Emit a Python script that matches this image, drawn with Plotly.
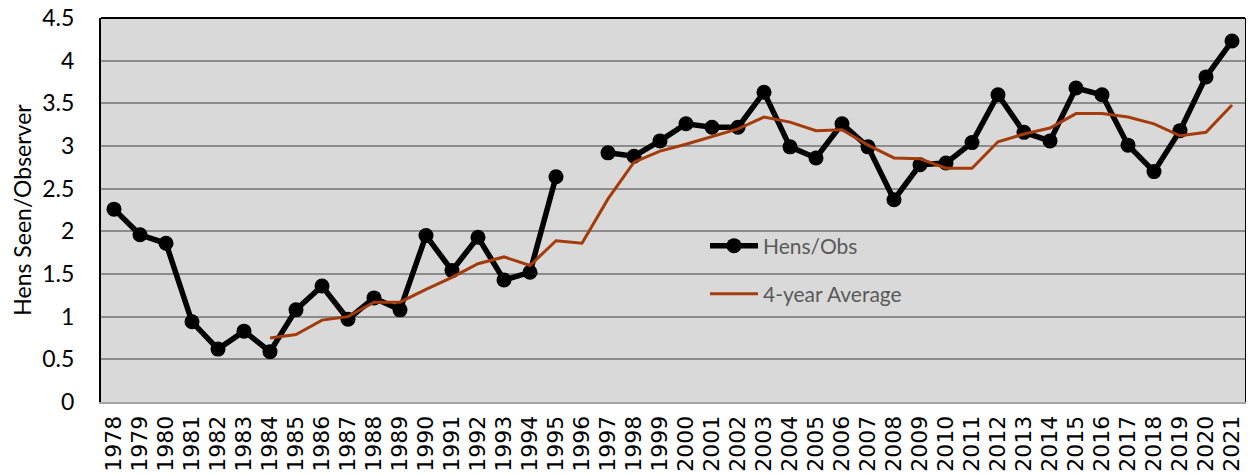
import plotly.graph_objects as go

years = [str(y) for y in range(1978, 2022)]

hens_obs = [2.26, 1.96, 1.86, 0.94, 0.62, 0.83, 0.59, 1.08, 1.36, 0.97,
            1.22, 1.08, 1.95, 1.54, 1.93, 1.43, 1.52, 2.64, None, 2.92,
            2.88, 3.06, 3.26, 3.22, 3.22, 3.63, 2.99, 2.86, 3.26, 2.99,
            2.37, 2.78, 2.80, 3.04, 3.60, 3.16, 3.06, 3.68, 3.60, 3.01,
            2.70, 3.18, 3.81, 4.23]

avg4 = [None, None, None, None, None, None, 0.75, 0.79, 0.96, 1.00,
        1.17, 1.17, 1.32, 1.46, 1.62, 1.70, 1.60, 1.89, 1.86, 2.38,
        2.81, 2.94, 3.02, 3.11, 3.20, 3.34, 3.28, 3.18, 3.19, 3.01,
        2.86, 2.85, 2.74, 2.74, 3.05, 3.14, 3.21, 3.38, 3.38, 3.34,
        3.26, 3.12, 3.16, 3.48]

y_ticks = [0, 0.5, 1, 1.5, 2, 2.5, 3, 3.5, 4, 4.5]
y_tick_text = ["0", "0.5", "1", "1.5", "2", "2.5", "3", "3.5", "4", "4.5"]

FONT = "Lato"
XFONT = "DejaVu Sans"

# The page body has an 8px margin, so the figure is placed at (8, 8).
OFF = 8
W, H = 1254 - OFF, 474 - OFF
PL, PR, PT, PB = 101, 1245, 18, 402  # plot area in page pixels


def leg_y(page_y):
    return 1 - (page_y - PT) / (PB - PT)


def leg_x(page_x):
    return (page_x - PL) / (PR - PL)


fig = go.Figure()
fig.add_trace(go.Scatter(
    x=years, y=hens_obs, name="Hens/Obs", mode="lines+markers",
    line=dict(color="black", width=5.5),
    marker=dict(color="black", size=15),
    connectgaps=False, legend="legend",
))
fig.add_trace(go.Scatter(
    x=years, y=avg4, name="4-year Average", mode="lines",
    line=dict(color="#A33B0A", width=3),
    connectgaps=False, legend="legend2",
))

legend_common = dict(
    font=dict(family=FONT, size=21, color="#595959"),
    bgcolor="rgba(0,0,0,0)", xanchor="left", yanchor="middle",
    itemwidth=48,
)

fig.update_layout(
    width=W, height=H,
    margin=dict(l=PL - OFF, r=1254 - PR, t=PT - OFF, b=474 - PB, autoexpand=False),
    paper_bgcolor="white", plot_bgcolor="#D9D9D9",
    font=dict(family=FONT, color="black"),
    showlegend=True,
    legend=dict(x=leg_x(705), y=leg_y(246), **legend_common),
    legend2=dict(x=leg_x(705), y=leg_y(294), **legend_common),
    xaxis=dict(
        type="category", tickangle=-90, automargin=False,
        tickmode="array", tickvals=years, ticktext=years,
        tickfont=dict(family=XFONT, size=22, color="black"),
        showgrid=False, showline=True, linecolor="#A6A6A6", linewidth=2,
        ticks="", ticklabelstandoff=3, ticklabeloverflow="allow",
        range=[-0.5, len(years) - 0.5],
    ),
    yaxis=dict(
        range=[0, 4.5], tickvals=y_ticks, ticktext=y_tick_text,
        automargin=False, ticklabeloverflow="allow",
        tickfont=dict(family=FONT, size=23, color="black"),
        showgrid=True, gridcolor="#8C8C8C", gridwidth=2,
        showline=True, linecolor="black", linewidth=2, mirror=True,
        ticks="", ticklabelstandoff=20, zeroline=False,
        title=dict(text="Hens Seen/Observer",
                   font=dict(family=FONT, size=23, color="black"),
                   standoff=16),
    ),
)

fig.add_shape(type="line", xref="paper", yref="paper", x0=0, x1=1, y0=1, y1=1,
              line=dict(color="black", width=2))

fig.write_html("out.html")
